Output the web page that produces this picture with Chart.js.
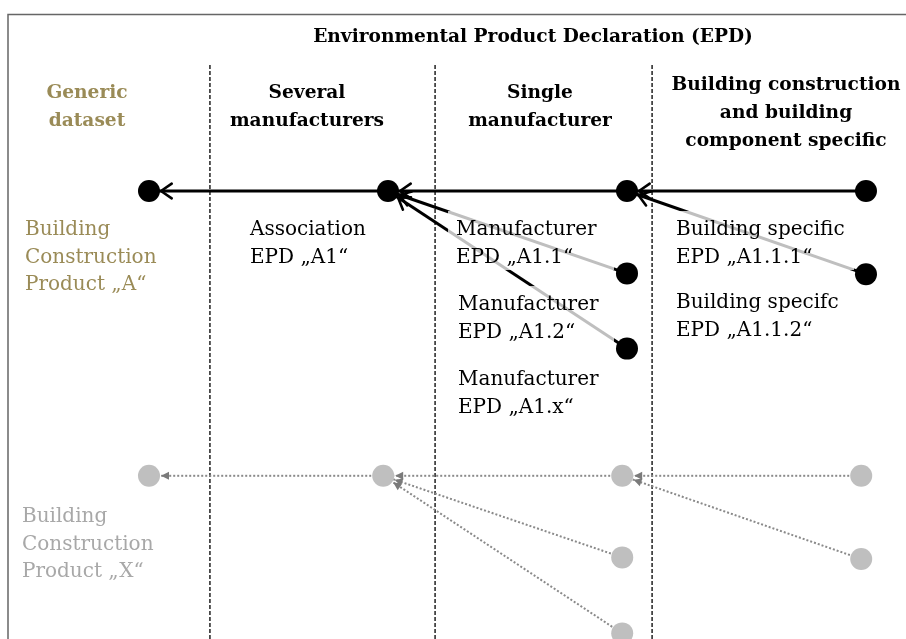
<!DOCTYPE html>
<html><head><meta charset="utf-8">
<script src="https://cdn.jsdelivr.net/npm/chart.js@4/dist/chart.umd.min.js"></script>
<style>html,body{margin:0;padding:0;background:#fff;overflow:hidden}canvas{display:block}</style>
</head><body>
<canvas id="c" width="906" height="639"></canvas>
<script>
// ---- data (stage = column index, level = row in diagram units) ----
const headerTitle = 'Environmental Product Declaration (EPD)';
const stageHeadings = [['Generic','dataset'],['Several','manufacturers'],['Single','manufacturer'],['Building construction','and building','component specific']];
const dividerStages = [0.255, 1.197, 2.105];
const nodeStageA = [0, 1, 2, 2, 2, 3, 3];
const nodeLevelA = [0, 0, 0, 1.03, 1.97, 0, 1.04];
const nodeStageX = [0, 0.98, 1.98, 1.98, 1.98, 2.98, 2.98];
const nodeLevelX = [3.56, 3.56, 3.56, 4.58, 5.53, 3.56, 4.6];
const edgeFrom = [1, 2, 3, 4, 5, 6];
const edgeTo   = [0, 1, 1, 1, 2, 2];
const labelsA = [['Building','Construction','Product \u201EA\u201C'], ['Association','EPD \u201EA1\u201C'], ['Manufacturer','EPD \u201EA1.1\u201C'], ['Manufacturer','EPD \u201EA1.2\u201C'], ['Manufacturer','EPD \u201EA1.x\u201C'], ['Building specific','EPD \u201EA1.1.1\u201C'], ['Building specifc','EPD \u201EA1.1.2\u201C']];
const labelX = ['Building','Construction','Product \u201EX\u201C'];

const OLIVE = '#9a8b57', GREYTXT = '#a8a8a8';
const datasets = [];
const ptsA = nodeStageA.map((s,i)=>({x:s,y:nodeLevelA[i]}));
const ptsX = nodeStageX.map((s,i)=>({x:s,y:nodeLevelX[i]}));
datasets.push({label:'nodesA', data:ptsA, pointRadius:11, pointBackgroundColor:'#000', pointBorderWidth:0, showLine:false, order:0});
datasets.push({label:'nodesX', data:ptsX, pointRadius:11, pointBackgroundColor:'#bfbfbf', pointBorderWidth:0, showLine:false, order:0});
edgeFrom.forEach((f,k)=>{
  datasets.push({label:'edgeA'+k, arrow:'open', data:[ptsA[f], ptsA[edgeTo[k]]], showLine:true, borderColor:'#000', borderWidth:3, pointRadius:0, order:2});
  datasets.push({label:'edgeX'+k, arrow:'filled', data:[ptsX[f], ptsX[edgeTo[k]]], showLine:true, borderColor:'#8a8a8a', borderWidth:2, borderDash:[2,2], pointRadius:0, order:2});
});
dividerStages.forEach((d,k)=>{
  datasets.push({label:'div'+k, data:[{x:d,y:-1.575},{x:d,y:5.6}], showLine:true, borderColor:'#111', borderWidth:1.4, borderDash:[4,2], pointRadius:0, order:3});
});

const framePlugin = {
  id:'frame',
  beforeDraw(chart){
    const c = chart.ctx;
    c.save(); c.fillStyle='#fff'; c.fillRect(0,0,chart.width,chart.height);
    c.strokeStyle='#666'; c.lineWidth=1.5;
    c.beginPath(); c.moveTo(8,chart.height); c.lineTo(8,14.5); c.lineTo(chart.width,14.5); c.stroke();
    c.restore();
  }
};

const arrowPlugin = {
  id:'arrows',
  afterDatasetsDraw(chart){
    const c = chart.ctx, xs = chart.scales.x, ys = chart.scales.y;
    chart.data.datasets.forEach(ds=>{
      if(!ds.arrow) return;
      const s = ds.data[0], t = ds.data[1];
      const sx=xs.getPixelForValue(s.x), sy=ys.getPixelForValue(s.y);
      const tx=xs.getPixelForValue(t.x), ty=ys.getPixelForValue(t.y);
      const L=Math.hypot(sx-tx,sy-ty), ux=(sx-tx)/L, uy=(sy-ty)/L;
      const px=tx+ux*12, py=ty+uy*12;
      c.save();
      if(ds.arrow==='open'){
        c.strokeStyle='#000'; c.lineWidth=2.6; c.lineCap='round';
        const a=0.6, len=13;
        c.beginPath();
        for(const sg of [1,-1]){
          const cs=Math.cos(a*sg), sn=Math.sin(a*sg);
          const vx=ux*cs-uy*sn, vy=ux*sn+uy*cs;
          c.moveTo(px,py); c.lineTo(px+vx*len,py+vy*len);
        }
        c.stroke();
      } else {
        c.fillStyle='#7a7a7a';
        const len=8, w=4;
        c.beginPath(); c.moveTo(px,py);
        c.lineTo(px+ux*len-uy*w, py+uy*len+ux*w);
        c.lineTo(px+ux*len+uy*w, py+uy*len-ux*w);
        c.closePath(); c.fill();
      }
      c.restore();
    });
  }
};

function drawLines(c, lines, x, y0, lh, align, font, color){
  c.font=font; c.fillStyle=color; c.textAlign=align; c.textBaseline='middle';
  lines.forEach((l,i)=>c.fillText(l, x, y0+i*lh));
}

const textPlugin = {
  id:'texts',
  afterDatasetsDraw(chart){
    const c = chart.ctx;
    c.save();
    const REG='20px "DejaVu Serif"', BOLD='bold 18.6px "DejaVu Serif"';
    drawLines(c,[headerTitle],533,37,28,'center',BOLD,'#000');
    const hx=[87,307,540,786], hy=[93,93,93,85];
    stageHeadings.forEach((h,i)=>drawLines(c,h,hx[i],hy[i],28,'center',BOLD,i===0?OLIVE:'#000'));
    const pos=[{x:25,y:230,w:165},{x:250,y:230,w:150},{x:456,y:230,w:166},{x:458,y:305,w:164},{x:458,y:380,w:164},{x:676,y:230,w:186},{x:676,y:303,w:186}];
    labelsA.forEach((l,i)=>{
      const p=pos[i];
      const top=p.y-19, bot=p.y+(l.length-1)*27+13;
      c.fillStyle='rgba(255,255,255,0.75)';
      c.fillRect(p.x-8, top, p.w, bot-top);
      drawLines(c,l,p.x,p.y,27.5,'left',REG,i===0?OLIVE:'#000');
    });
    drawLines(c,labelX,22,517,27.5,'left',REG,GREYTXT);
    c.restore();
  }
};

new Chart(document.getElementById('c'), {
  type:'scatter',
  data:{datasets},
  options:{
    responsive:false, devicePixelRatio:1, animation:false,
    layout:{padding:0, autoPadding:false},
    plugins:{legend:{display:false}, tooltip:{enabled:false}},
    scales:{
      x:{type:'linear', display:false, min:-0.6234, max:3.1674},
      y:{type:'linear', display:false, reverse:true, min:-2.3875, max:5.6}
    },
    elements:{line:{tension:0}}
  },
  plugins:[framePlugin, arrowPlugin, textPlugin]
});
</script>
</body></html>
